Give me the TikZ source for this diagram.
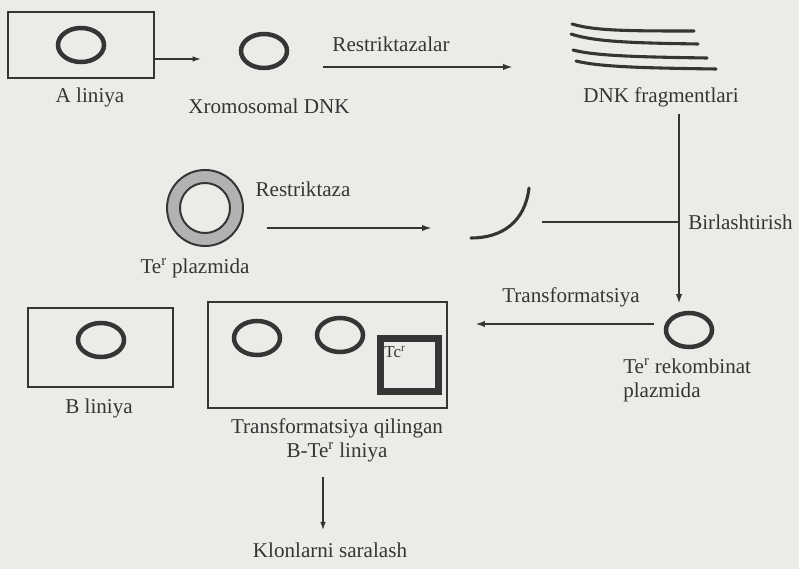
\documentclass[tikz,border=0pt]{standalone}
\usepackage{fontspec}
\setmainfont{Liberation Serif}
\usetikzlibrary{arrows.meta,positioning,calc,shapes.geometric}
\definecolor{ink}{HTML}{353535}
\definecolor{paper}{HTML}{EBEBE8}
\definecolor{ringgray}{HTML}{B2B2B2}

\begin{document}
\begin{tikzpicture}[x=0.025cm, y=-0.025cm,
  lbl/.style      ={font=\fontsize{15}{17}\selectfont, text=ink, inner sep=0pt},
  cellbox/.style  ={rectangle, draw=ink, line width=0.9pt, inner sep=0pt},
  dnaring/.style  ={ellipse, draw=ink, line width=3.2pt, minimum width=1.15cm, minimum height=0.85cm, inner sep=0pt},
  frag/.style     ={draw=ink, line width=2.2pt, line cap=round},
  bigarrow/.style ={draw=ink, line width=2pt, -{Latex[length=7pt,width=4.5pt]}},
  thinarrow/.style={draw=ink, line width=1pt, -{Latex[length=6pt,width=4pt]}},
]
\useasboundingbox[fill=paper] (0,0) rectangle (799,569);

% top row: A line, chromosome, fragments
\node[cellbox, minimum width=3.65cm, minimum height=1.65cm] (lineA) at (81,45) {};
\node[dnaring] (ringA) at (81,45) {};
\node[lbl] (lblA) at (90,97) {A liniya};
\node[dnaring] (chrom) at (264,51) {};
\node[lbl] (lblChrom) at (269,106) {Xromosomal DNK};
\node[lbl] (lblRestr1) at (391,44) {Restriktazalar};
\node[lbl] (lblFrag) at (661,97) {DNK fragmentlari};

\coordinate (aOut) at (201,59);
\coordinate (rsA) at (323,67);
\coordinate (rsB) at (513,67);
\draw[thinarrow] (lineA.east |- aOut) -- (aOut);
\draw[bigarrow] (rsA) -- (rsB);

% DNA fragments
\draw[frag] (572,24) .. controls (595,31) and (630,31) .. (694,31);
\draw[frag] (571,34) .. controls (595,42) and (635,43) .. (698,44);
\draw[frag] (573,50) .. controls (595,56) and (640,57) .. (707,58);
\draw[frag] (576,61) .. controls (600,67) and (645,68) .. (716,69);

% middle row: Te^r plasmid and cut
\node[circle, minimum size=1.9cm, inner sep=0pt] (ptec) at (205,208) {};
\fill[ringgray, even odd rule] (ptec.center) circle (38) circle (25);
\draw[ink, line width=1.4pt] (ptec.center) circle (38) circle (25);
\node[lbl] (lblPtec) at (195,268) {Te\textsuperscript{r} plazmida};
\node[lbl] (lblRestr2) at (303,189) {Restriktaza};

\coordinate (cutIn) at (267,228);
\coordinate (cutOut) at (432,228);
\draw[bigarrow] (cutIn) -- (cutOut);

\coordinate (arcT) at (529,188);
\coordinate (arcB) at (471,238);
\draw[frag] (arcT) .. controls (525,222) and (502,238) .. (arcB);

% joining fragments into the vector
\coordinate (joinTop) at (679,114);
\coordinate (joinL) at (542,222);
\node[lbl, anchor=west] (lblJoin) at (688,222) {Birlashtirish};
\node[dnaring] (recRing) at (689,330) {};
\coordinate (joinBot) at (679,304);
\draw[bigarrow] (joinTop) -- (joinBot);
\draw[frag, line width=1.6pt, line cap=butt] (joinL) -- (joinL -| joinTop);
\node[lbl, align=left, anchor=west] (lblRec) at (623,380) {Te\textsuperscript{r} rekombinat\\plazmida};

% transformation
\node[lbl] (lblTrans) at (571,297) {Transformatsiya};
\coordinate (trOut) at (475,324);
\draw[bigarrow] (recRing.west |- trOut) ++(-10,0) -- (trOut);

% bottom row: B line and transformed line
\node[cellbox, minimum width=3.625cm, minimum height=1.975cm] (lineB) at (100.5,347.5) {};
\node[dnaring] (ringB) at (101,340) {};
\node[lbl] (lblB) at (99,408) {B liniya};

\node[cellbox, minimum width=5.975cm, minimum height=2.65cm] (lineBT) at (327.5,355) {};
\node[dnaring] (ringBT1) at (257,338) {};
\node[dnaring] (ringBT2) at (340,335) {};
\node[rectangle, draw=ink, line width=5pt, minimum width=1.45cm, minimum height=1.325cm] (tcSq) at (409.5,365) {};
\node[font=\fontsize{12}{14}\selectfont, text=ink, inner sep=0pt] (tcLbl) at (395,352) {Tc\textsuperscript{r}};
\node[lbl, align=center] (lblBT) at (337,440) {Transformatsiya qilingan\\B-Te\textsuperscript{r} liniya};

\node[lbl] (lblKlon) at (330,550) {Klonlarni saralash};
\coordinate (selTop) at (323,477);
\draw[thinarrow] (selTop) -- ($(selTop |- lblKlon.north)+(0,-12)$);
\end{tikzpicture}
\end{document}
